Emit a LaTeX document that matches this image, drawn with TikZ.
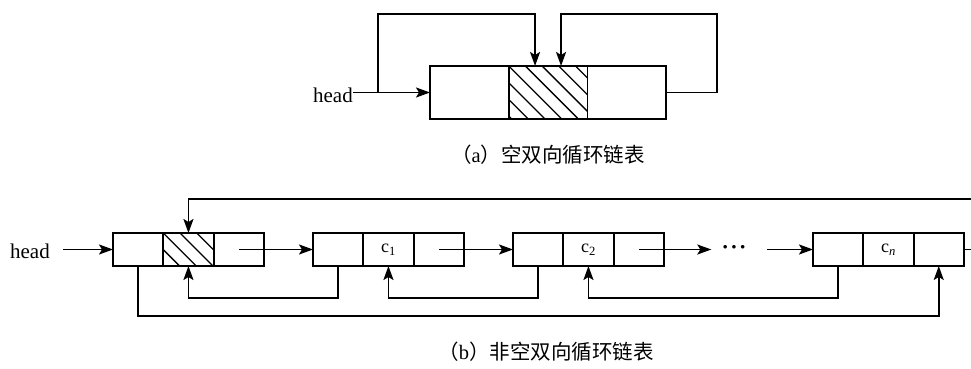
\documentclass[tikz,border=0pt]{standalone}
\usepackage{fontspec}
\setmainfont{Liberation Serif}
\newfontfamily\cjk{Noto Sans CJK SC}
\usetikzlibrary{positioning,arrows.meta}
\tikzset{
  acell/.style={draw, line width=1.8pt, minimum width=78.7pt, minimum height=53pt, inner sep=0pt, outer sep=0pt},
  bcell/.style={draw, line width=1.8pt, minimum width=50.3pt, minimum height=33pt, inner sep=0pt, outer sep=0pt, font=\fontsize{18}{20}\selectfont},
  arr/.style={line width=1.8pt, -{Stealth[length=14pt,width=10pt,inset=3pt]}},
  lbl/.style={inner sep=0pt, font=\fontsize{21}{24}\selectfont},
  hatch/.style={line width=1.3pt}
}
\begin{document}
\begin{tikzpicture}[x=1pt,y=-1pt]
\useasboundingbox (0,0) rectangle (971,369);
% (a) empty list
\node[acell] (a1) at (469.35,92.5) {};
\node[acell, right=0pt of a1] (a2) {};
\node[acell, right=0pt of a2] (a3) {};
\begin{scope}
  \clip (a2.north west) rectangle (a2.south east);
  \foreach \k in {-4,...,5}
    \draw[hatch] ([xshift=\k*16.7pt]a2.north west) -- ++(70,70);
\end{scope}
\draw[line width=1.8pt] (a2.north west) rectangle (a2.south east);
\node[lbl, anchor=east] (ha) at (353,95) {head};
\coordinate (atop) at (0,14);
\coordinate (ja) at (378,92.5);
\coordinate (a2l) at ([xshift=-13pt]a2.north);
\coordinate (a2r) at ([xshift=13pt]a2.north);
\draw[arr] (ha.east |- a1.west) -- (a1.west);
\draw[arr] (ja) |- (a2l |- atop) -- (a2l);
\draw[arr] (a3.east) -- ++(51,0) |- (a2r |- atop) -- (a2r);
\node[lbl, font=\fontsize{20.5}{24}\selectfont] (capa) at (548,155) {{\cjk（}a{\cjk）空双向循环链表}};
% (b) non-empty list
\foreach \k/\x/\dat in {1/113/{},2/313/{c\textsubscript{1}},3/513/{c\textsubscript{2}},4/813/{c\textsubscript{\textit{n}}}} {
  \node[bcell] (p\k) at (\x+25.15,249.5) {};
  \node[bcell, right=0pt of p\k] (d\k) {\dat};
  \node[bcell, right=0pt of d\k] (n\k) {};
}
\begin{scope}
  \clip (d1.north west) rectangle (d1.south east);
  \foreach \k in {-3,...,3}
    \draw[hatch] ([xshift=\k*16.7pt]d1.north west) -- ++(50,50);
\end{scope}
\draw[line width=1.8pt] (d1.north west) rectangle (d1.south east);
\node[lbl, anchor=east] (hb) at (50,251) {head};
\node[lbl, font=\bfseries\fontsize{22}{24}\selectfont] (dots) at (734,249.5) {·\kern1.5pt·\kern1.5pt·};
\coordinate (btop) at (0,199);
\draw[arr, shorten <=13pt] (hb.east |- p1.west) -- (p1.west);
\draw[arr] (n1.center) -- (p2.west);
\draw[arr] (n2.center) -- (p3.west);
\draw[arr] (n3.center) -- ([xshift=-10pt]dots.west);
\draw[arr] ([xshift=20pt]dots.east) -- (p4.west);
\draw[arr] (n4.east) -- ++(15,0) |- (d1.north |- btop) -- (d1.north);
\draw[arr] (p2.south) -- ++(0,32) -| (d1.south);
\draw[arr] (p3.south) -- ++(0,32) -| (d2.south);
\draw[arr] (p4.south) -- ++(0,32) -| (d3.south);
\draw[arr] (p1.south) -- ++(0,50) -| (n4.south);
\node[lbl, font=\fontsize{20.5}{24}\selectfont] (capb) at (546,352) {{\cjk（}b{\cjk）非空双向循环链表}};
\end{tikzpicture}
\end{document}
